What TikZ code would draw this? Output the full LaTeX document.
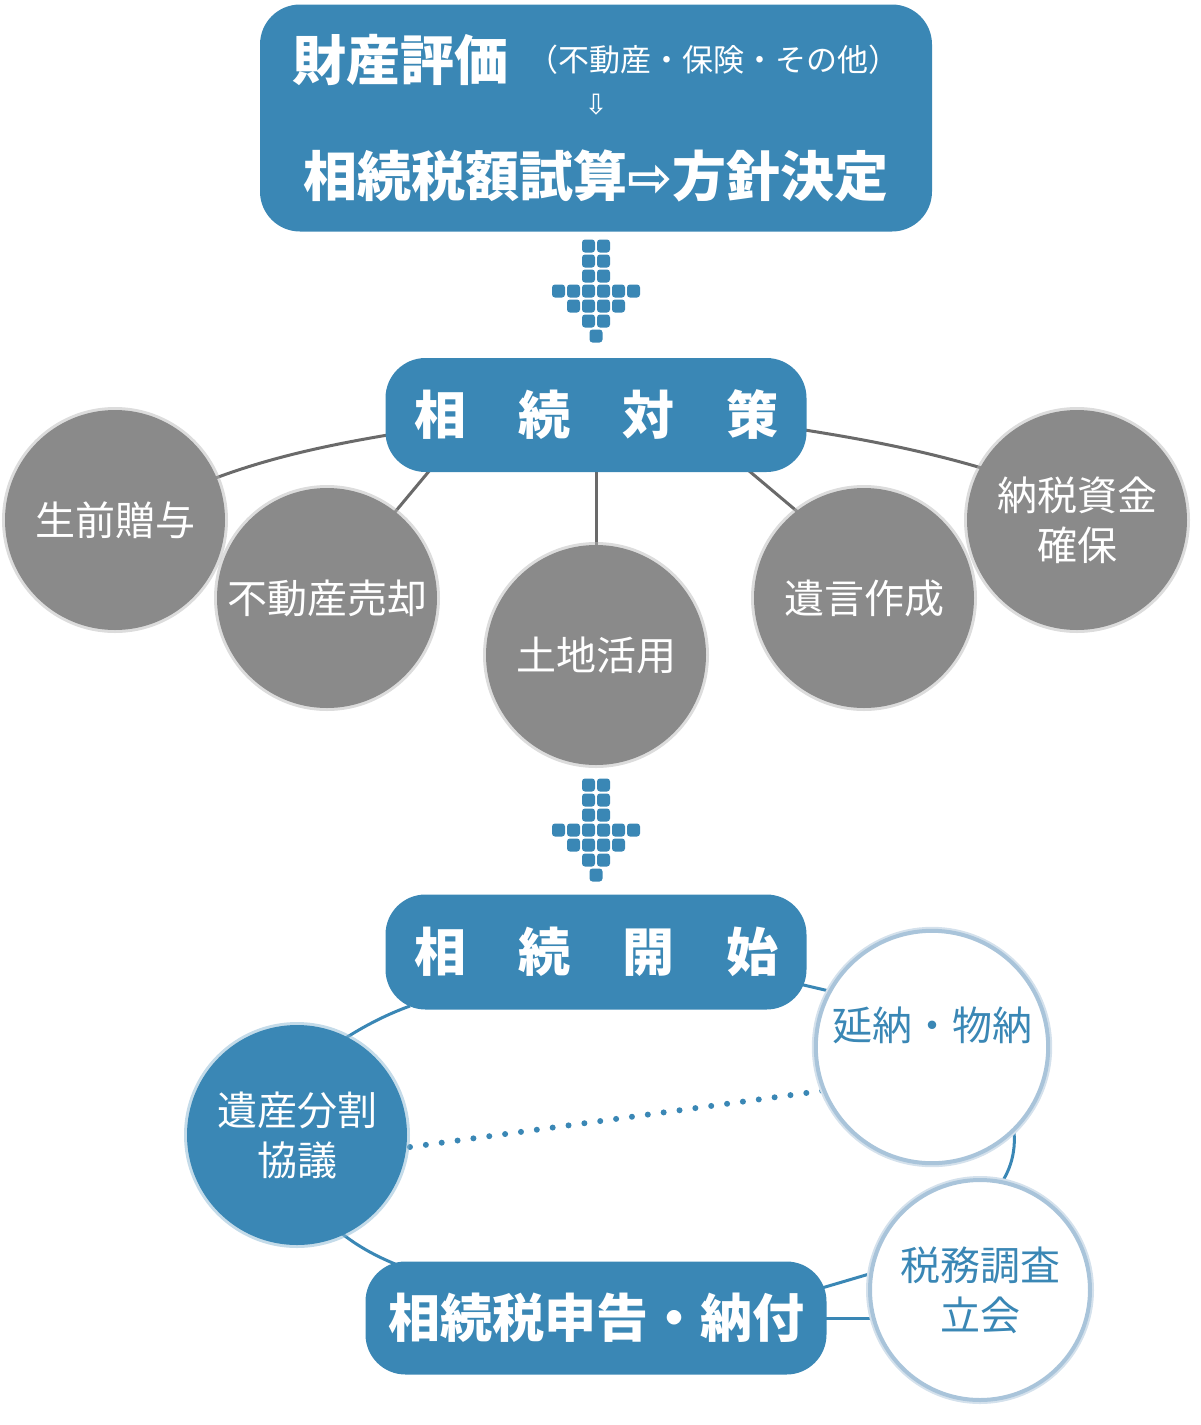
\documentclass[tikz,border=0pt]{standalone}
\usepackage{fontspec}
\setmainfont{Noto Sans CJK JP}
\newfontfamily\arrowfont{DejaVu Sans}
\usetikzlibrary{positioning}
\definecolor{myblue}{HTML}{3A87B5}
\definecolor{mygray}{HTML}{8A8A8A}
\definecolor{myline}{HTML}{6A6A6A}
\definecolor{myring}{HTML}{A9C4DA}
\tikzset{
  bluebox/.style={fill=myblue, rounded corners=20pt, text=white, font=\fontsize{26}{30}\selectfont\bfseries},
  graycirc/.style={circle, fill=mygray, minimum size=110pt, text=white, align=center,
    font=\fontsize{20}{25}\selectfont,
    preaction={draw=mygray!60, line width=3pt, opacity=0.5}},
  bluecirc/.style={circle, fill=myblue, minimum size=110pt, text=white, align=center,
    font=\fontsize{20}{25}\selectfont,
    preaction={draw=myblue!60, line width=3pt, opacity=0.5}},
  whitecirc/.style={circle, fill=white, draw=myring, line width=2pt, minimum size=110pt,
    text=myblue, align=center, font=\fontsize{20}{25}\selectfont,
    preaction={draw=myring!50, line width=4pt}},
  grayline/.style={draw=myline, line width=1.5pt},
  blueline/.style={draw=myblue, line width=1.5pt},
  dotsq/.style={fill=myblue, rounded corners=1.5pt}
}
\newcommand{\dotarrow}[2]{%
  \foreach \dx/\dy in {-7.5/0,7.5/0,-7.5/15,7.5/15,-7.5/30,7.5/30,
      -37.5/45,-22.5/45,-7.5/45,7.5/45,22.5/45,37.5/45,
      -22.5/60,-7.5/60,7.5/60,22.5/60,-7.5/75,7.5/75,0/90}
    \fill[dotsq] (#1+\dx-6.5,#2+\dy-6.5) rectangle (#1+\dx+6.5,#2+\dy+6.5);}
\begin{document}
\begin{tikzpicture}[x=0.5pt, y=-0.5pt]
    \useasboundingbox (0,0) rectangle (1200,1425);
    % top box
    \node(hyoka)[bluebox, minimum width=336pt, minimum height=113.5pt] at (596,118) {};
    \node(zaisan) at (400,60) {\fontsize{27}{30}\selectfont\bfseries\color{white}財産評価};
    \node(sonota) at (713,60) {\fontsize{15.5}{18}\selectfont\color{white}（不動産・保険・その他）};
    \node(down) at (596,105) {\fontsize{14}{16}\selectfont\arrowfont\color{white}⇩};
    \node(shisan) at (596,176) {\fontsize{27}{30}\selectfont\bfseries\color{white}相続税額試算{\arrowfont ⇨}方針決定};
    \dotarrow{596}{246}
    % measures
    \draw[grayline] (400,433) .. controls (320,446) and (260,460) .. (200,484);
    \draw[grayline] (792,428) .. controls (870,440) and (930,452) .. (995,472);
    \draw[grayline] (430,470) -- (390,518);
    \draw[grayline] (596,470) -- (596,550);
    \draw[grayline] (748,470) -- (805,518);
    \node(taisaku)[bluebox, minimum width=210.5pt, minimum height=57pt] at (596,415) {相　続　対　策};
    \node(zoyo)[graycirc] at (115,520) {生前贈与};
    \node(baikyaku)[graycirc] at (327,598) {不動産売却};
    \node(katsuyo)[graycirc] at (596,655) {土地活用};
    \node(igon)[graycirc] at (864,598) {遺言作成};
    \node(shikin)[graycirc] at (1077,520) {納税資金\\確保};
    \dotarrow{596}{785}
    % after start
    \draw[blueline] (410,1006) .. controls (385,1015) and (360,1028) .. (335,1045);
    \draw[blueline] (335,1228) .. controls (355,1245) and (375,1256) .. (400,1266);
    \draw[blueline] (795,983) -- (842,994);
    \draw[blueline] (1012,1120) .. controls (1018,1145) and (1012,1168) .. (1000,1185);
    \draw[blueline] (815,1290) -- (876,1272);
    \draw[blueline] (815,1318) -- (878,1318);
    \draw[myblue, line width=3pt, line cap=round, dash pattern=on 0pt off 8pt] (410,1147) -- (828,1090);
    \node(kaishi)[bluebox, minimum width=210.5pt, minimum height=57.5pt] at (596,952) {相　続　開　始};
    \node(shinkoku)[bluebox, minimum width=230.5pt, minimum height=56.5pt] at (596,1318) {相続税申告・納付};
    \node(bunkatsu)[bluecirc] at (297,1135) {遺産分割\\協議};
    \node(ennou)[whitecirc] at (932,1047) {延納・物納\\[-2pt]\phantom{x}};
    \node(chosa)[whitecirc] at (980,1290) {税務調査\\立会};
\end{tikzpicture}
\end{document}
